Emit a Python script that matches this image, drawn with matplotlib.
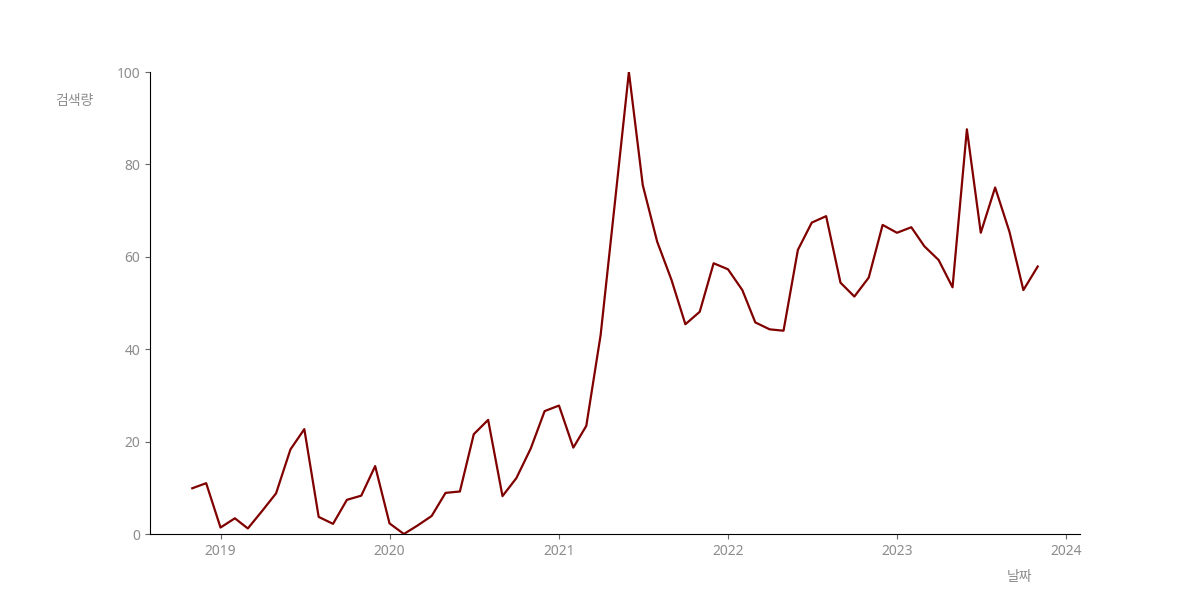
import numpy as np
import pandas as pd
from matplotlib import pyplot as plt

plt.rcParams['font.family'] = ['Noto Sans', 'Noto Sans CJK KR', 'DejaVu Sans']

# monthly search volume, 2018-11 .. 2023-11
dates = pd.date_range('2018-11-01', '2023-11-01', freq='MS')
volume = [9.9, 11.0, 1.4, 3.4, 1.2, 5.0, 8.8, 18.3, 22.7, 3.7, 2.2, 7.4, 8.3, 14.7,
          2.3, 0.0, 1.8, 3.9, 8.9, 9.2, 21.6, 24.7, 8.2, 12.1, 18.5, 26.6,
          27.8, 18.7, 23.4, 43.1, 71.0, 100.0, 75.5, 63.3, 55.0, 45.4, 48.1, 58.6,
          57.3, 52.8, 45.8, 44.3, 44.0, 61.5, 67.4, 68.8, 54.4, 51.4, 55.5, 66.9,
          65.2, 66.4, 62.3, 59.3, 53.4, 87.6, 65.2, 75.0, 65.4, 52.8, 57.9]

fig, ax = plt.subplots(figsize=(12, 6), dpi=100)
ax.plot(dates, volume, color='#800000', linewidth=1.6)
ax.set_ylim(0, 100)

ax.spines['top'].set_visible(False)
ax.spines['right'].set_visible(False)
ax.tick_params(colors='#8c8c8c', labelsize=10)
ax.tick_params(axis='both', color='#666666')

ax.set_ylabel('검색량', rotation=0, color='#8c8c8c', fontsize=10)
ax.yaxis.set_label_coords(-0.081, 0.92)
ax.set_xlabel('날짜', color='#8c8c8c', fontsize=10)
ax.xaxis.set_label_coords(0.935, -0.078)

plt.savefig('out.png')
